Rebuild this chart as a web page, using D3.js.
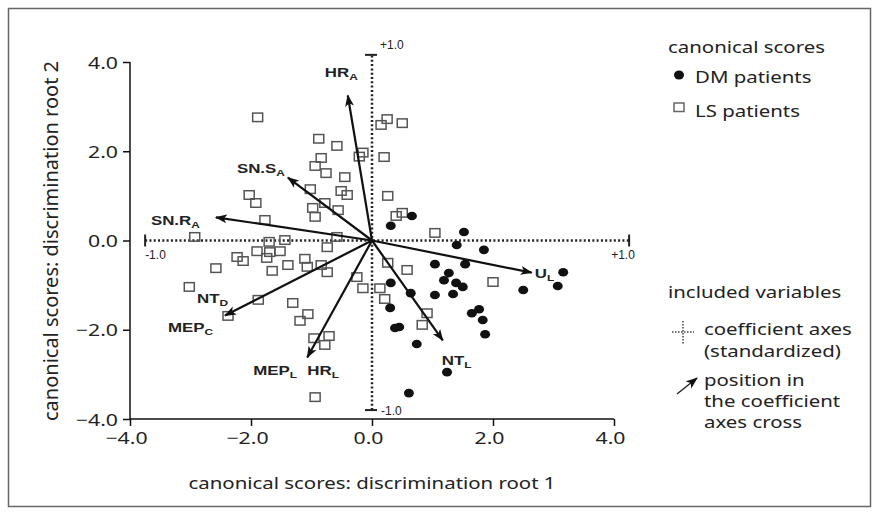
<!DOCTYPE html>
<html lang="en">
<head>
<meta charset="UTF-8">
<title>canonical scores</title>
<style>
  body { margin: 0; background: #fff; }
  svg text { font-family: "Noto Sans", "Open Sans", sans-serif; fill: #222; }
</style>
</head>
<body>
<script src="https://cdn.jsdelivr.net/npm/d3@7"></script>
<script>
// canonical scores, DM patients [root1, root2]
var dmScores = [
  [0.66,0.55],[0.31,0.33],[1.52,0.19],[1.40,-0.10],[1.85,-0.21],[1.04,-0.53],[1.54,-0.53],
  [1.27,-0.73],[1.19,-0.89],[1.39,-0.95],[1.50,-1.04],[3.16,-0.71],[3.07,-1.02],[2.50,-1.11],
  [0.31,-0.95],[0.64,-1.18],[1.04,-1.22],[1.34,-1.20],[0.30,-1.51],[1.65,-1.63],[1.77,-1.54],
  [1.83,-1.78],[0.45,-1.94],[0.38,-1.96],[1.87,-2.10],[0.74,-2.32],[1.24,-2.95],[0.61,-3.42]
]
// canonical scores, LS patients
var lsScores = [
  [-1.89,2.76],[-0.88,2.28],[-0.58,2.12],[-0.84,1.85],[-0.15,1.97],[-0.21,1.88],[-0.94,1.67],
  [-0.76,1.51],[-0.45,1.42],[-0.51,1.11],[-0.41,1.02],[-1.02,1.15],[-2.03,1.02],[-1.92,0.84],
  [-0.98,0.73],[-0.78,0.84],[-0.56,0.68],[-1.77,0.46],[-0.94,0.53],[0.15,2.59],[0.25,2.72],
  [0.50,2.63],[0.20,1.87],[0.26,1.00],[0.50,0.62],[0.40,0.55],[-2.93,0.08],[-1.70,-0.03],
  [-1.44,0.01],[-0.74,-0.15],[-0.58,0.08],[-2.23,-0.37],[-2.13,-0.46],[-1.90,-0.24],[-1.74,-0.39],
  [-1.69,-0.26],[-1.52,-0.24],[-2.58,-0.62],[-1.65,-0.68],[-1.39,-0.55],[-1.11,-0.41],[-1.07,-0.59],
  [-0.84,-0.55],[-0.74,-0.71],[-3.02,-1.04],[-1.88,-1.33],[-1.31,-1.40],[-1.06,-1.65],[-1.19,-1.80],
  [-2.38,-1.69],[-0.96,-2.19],[-0.71,-2.14],[-0.78,-2.34],[-0.25,-0.82],[-0.15,-1.07],[0.13,-1.07],
  [-0.94,-3.51],[1.04,0.17],[0.26,-0.50],[0.58,-0.66],[2.00,-0.93],[0.21,-1.31],[0.91,-1.63],[0.83,-1.89]
]
// coefficient arrows (tip in root-score units)
var arrowX = [-0.40,-1.39,-2.58,-2.43,-1.07,2.64,1.17]
var arrowY = [3.25,1.41,0.52,-1.68,-2.62,-0.72,-2.24]
// variable names, subscripts, and which arrow they belong to
var varNames = ['HR','SN.S','SN.R','NT','MEP','MEP','HR','U','NT']
var varSubs  = ['A','A','A','D','C','L','L','L','L']
var varArrow = [0,1,2,3,3,4,4,5,6]
// coefficient axes cross: ends of the -1.0 .. +1.0 axes
var coefAxisX = [-3.75,4.25]
var coefAxisY = [-3.80,4.16]
var coefLabels = ['-1.0','+1.0']
var ticks = [-4,-2,0,2,4]

// layout
var W = 879, H = 515
var labelOffset = [[-23,-18],[-51,-5],[-65,8],[-28,-12],[-57,17],[-54,18],[0,18],[3,5],[-1,25]]

var svg = d3.select('body').append('svg').attr('width',W).attr('height',H)

svg.append('rect').attr('x',8.5).attr('y',8.5).attr('width',862).attr('height',498)
   .attr('fill','none').attr('stroke','#666').attr('stroke-width',1.5)

var x = d3.scaleLinear().domain([-4,4]).range([130,614])
var y = d3.scaleLinear().domain([-4,4]).range([419,62])

// stretched text helper
function txt(g, px, py, s, size, sx, anchor){
  return g.append('text')
    .attr('transform','translate('+px+','+py+') scale('+sx+',1)')
    .attr('text-anchor',anchor||'start')
    .style('font-size',size+'px')
    .text(s)
}

var fmt = d3.format('.1f')
var yAxis = d3.axisLeft(y).tickValues(ticks).tickSize(7).tickFormat(fmt)
var xAxis = d3.axisBottom(x).tickValues(ticks).tickSize(7).tickFormat(fmt)

var gy = svg.append('g').attr('transform','translate(130,0)').call(yAxis)
var gx = svg.append('g').attr('transform','translate(0,419)').call(xAxis)
;[gy,gx].forEach(function(g){
  g.select('.domain').attr('stroke','#111').attr('stroke-width',1.5)
  g.selectAll('.tick line').attr('stroke','#111').attr('stroke-width',1.5)
  g.selectAll('.tick text').style('font-size','17px').style('font-family','"Noto Sans", sans-serif').attr('fill','#222')
})
gy.select('.domain').attr('d','M0,62V419')
gx.select('.domain').attr('d','M130,0H614')
gy.selectAll('.tick text').attr('x',null).attr('dy',null)
  .attr('transform','translate(-12,6) scale(1.25,1)')
gx.selectAll('.tick text').attr('y',null).attr('dy',null)
  .attr('transform','translate(-4,25) scale(1.25,1)')

// axis titles
txt(svg, 372, 489, 'canonical scores: discrimination root 1', 17, 1.2, 'middle')
svg.append('text').attr('transform','translate(58,241) rotate(-90)')
   .attr('text-anchor','middle').style('font-size','20px')
   .text('canonical scores: discrimination root 2')

// coefficient axes cross
var cx0 = x(0), cy0 = y(0)
var coef = svg.append('g').attr('stroke','#222')
coef.append('line').attr('x1',x(coefAxisX[0])).attr('x2',x(coefAxisX[1])).attr('y1',cy0).attr('y2',cy0)
    .attr('stroke-width',2.5).attr('stroke-dasharray','2,2.3')
coef.append('line').attr('y1',y(coefAxisY[0])).attr('y2',y(coefAxisY[1])).attr('x1',cx0).attr('x2',cx0)
    .attr('stroke-width',2.5).attr('stroke-dasharray','2,2.3')
coefAxisX.forEach(function(v){
  coef.append('line').attr('x1',x(v)).attr('x2',x(v)).attr('y1',cy0-6).attr('y2',cy0+6).attr('stroke-width',2)
})
coefAxisY.forEach(function(v){
  coef.append('line').attr('y1',y(v)).attr('y2',y(v)).attr('x1',cx0-7).attr('x2',cx0+5).attr('stroke-width',2)
})
function small(px,py,s){
  svg.append('text').attr('x',px).attr('y',py).style('font-family','"Liberation Sans", Arial, sans-serif')
     .style('font-size','12px').attr('fill','#555').text(s)
}
small(x(coefAxisX[0]), cy0+18, coefLabels[0])
small(x(coefAxisX[1])-18, cy0+18, coefLabels[1])
small(cx0+8, y(coefAxisY[1])-6, coefLabels[1])
small(cx0+9, y(coefAxisY[0])+5, coefLabels[0])

// LS squares
svg.append('g').selectAll('rect').data(lsScores).enter().append('rect')
  .attr('x',function(d){return x(d[0])-5}).attr('y',function(d){return y(d[1])-4.25})
  .attr('width',10).attr('height',8.5)
  .attr('fill','none').attr('stroke','#555').attr('stroke-width',1.5)

// DM dots
svg.append('g').selectAll('ellipse').data(dmScores).enter().append('ellipse')
  .attr('cx',function(d){return x(d[0])}).attr('cy',function(d){return y(d[1])})
  .attr('rx',5).attr('ry',4.3).attr('fill','#111')

// arrows
svg.append('defs').append('marker').attr('id','head')
  .attr('viewBox','0 -5 12 10').attr('refX',11).attr('refY',0)
  .attr('markerWidth',12).attr('markerHeight',10).attr('markerUnits','userSpaceOnUse')
  .attr('orient','auto')
  .append('path').attr('d','M0,-4.5L12,0L0,4.5L3,0Z').attr('fill','#111')

svg.append('g').selectAll('line').data(arrowX).enter().append('line')
  .attr('x1',cx0).attr('y1',cy0)
  .attr('x2',function(d){return x(d)})
  .attr('y2',function(d,i){return y(arrowY[i])})
  .attr('stroke','#111').attr('stroke-width',2.2).attr('marker-end','url(#head)')

// variable labels
var lab = svg.append('g')
varNames.forEach(function(n,i){
  var a = varArrow[i]
  var t = lab.append('text')
    .attr('transform','translate('+(x(arrowX[a])+labelOffset[i][0])+','+(y(arrowY[a])+labelOffset[i][1])+') scale(1.25,1)')
    .style('font-family','"Liberation Sans", Arial, sans-serif').style('font-weight','bold')
    .style('font-size','13.5px').attr('fill','#333')
  t.append('tspan').text(n)
  t.append('tspan').attr('dy',3).style('font-size','9.5px').text(varSubs[i])
})

// legend
var lg = svg.append('g')
txt(lg, 668, 53, 'canonical scores', 17, 1.2)
lg.append('ellipse').attr('cx',679).attr('cy',75).attr('rx',5).attr('ry',4.5).attr('fill','#111')
txt(lg, 695, 83, 'DM patients', 17, 1.2)
lg.append('rect').attr('x',674).attr('y',103).attr('width',10).attr('height',8.5)
  .attr('fill','none').attr('stroke','#666').attr('stroke-width',1.5)
txt(lg, 695, 117, 'LS patients', 17, 1.2)

txt(lg, 668, 298, 'included variables', 17, 1.2)
lg.append('line').attr('x1',672).attr('x2',694).attr('y1',332).attr('y2',332)
  .attr('stroke','#444').attr('stroke-width',1.5).attr('stroke-dasharray','1.5,1.5')
lg.append('line').attr('x1',683).attr('x2',683).attr('y1',321).attr('y2',345)
  .attr('stroke','#444').attr('stroke-width',1.5).attr('stroke-dasharray','1.5,1.5')
txt(lg, 704, 335, 'coefficient axes', 17, 1.2)
txt(lg, 704, 357, '(standardized)', 17, 1.2)
lg.append('line').attr('x1',677).attr('y1',394).attr('x2',697).attr('y2',378)
  .attr('stroke','#222').attr('stroke-width',1.5).attr('marker-end','url(#head)')
txt(lg, 704, 386, 'position in', 17, 1.2)
txt(lg, 704, 407, 'the coefficient', 17, 1.2)
txt(lg, 704, 428, 'axes cross', 17, 1.2)
</script>
</body>
</html>
